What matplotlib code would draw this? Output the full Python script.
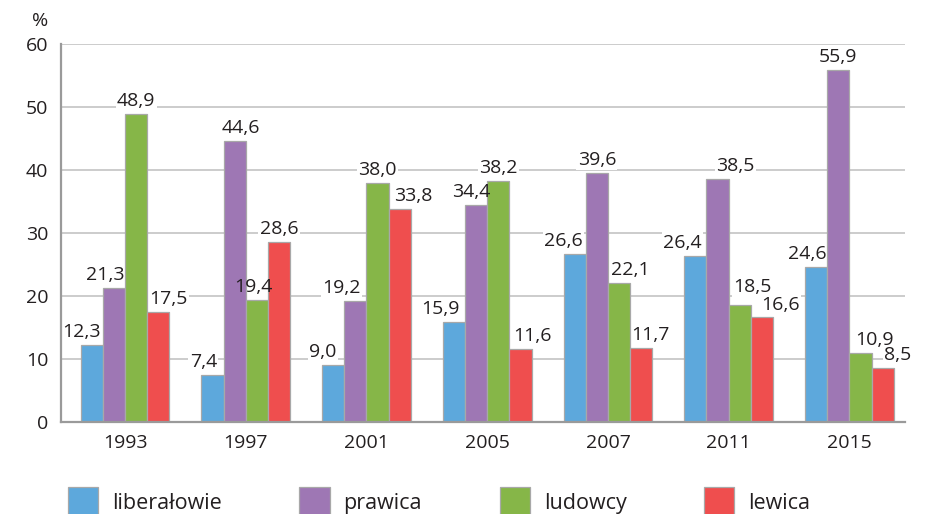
import matplotlib
matplotlib.use("Agg")
import matplotlib.pyplot as plt
import numpy as np

plt.rcParams["font.family"] = ["Open Sans", "DejaVu Sans"]

years = ["1993", "1997", "2001", "2005", "2007", "2011", "2015"]
series = ["liberałowie", "prawica", "ludowcy", "lewica"]
liberalowie = [12.3, 7.4, 9.0, 15.9, 26.6, 26.4, 24.6]
prawica = [21.3, 44.6, 19.2, 34.4, 39.6, 38.5, 55.9]
ludowcy = [48.9, 19.4, 38.0, 38.2, 22.1, 18.5, 10.9]
lewica = [17.5, 28.6, 33.8, 11.6, 11.7, 16.6, 8.5]
values = [liberalowie, prawica, ludowcy, lewica]

colors = ["#5da8dc", "#9e77b4", "#86b648", "#ef4e4e"]

# nudges of the value labels (pixels), per year / per series
nudge_x = [
    [-10, -9, 0, 10],
    [-9, 6, -3, 0],
    [-10, -14, 0, 13],
    [-14, -5, 0, 12],
    [-11, 0, 11, 9],
    [-13, 18, 13, 18],
    [-9, 0, 14, 15],
]
nudge_y = [
    [4, 4, 4, 4],
    [4, 4, 4, 4],
    [4, 4, 4, 4],
    [4, 4, 4, 4],
    [4, 4, 4, 4],
    [4, 4, 9, 3],
    [4, 4, 4, 4],
]

fig = plt.figure(figsize=(9.34, 5.14), dpi=100)
ax = fig.add_axes([61 / 934, 92 / 514, 844 / 934, 378 / 514])

x = np.arange(len(years))
width = 0.184

for s, (name, vals, col) in enumerate(zip(series, values, colors)):
    pos = x + (s - 1.5) * width
    bars = ax.bar(pos, vals, width, color=col, edgecolor="#a8a8a8",
                  linewidth=0.9, label=name, zorder=2)
    for i, (b, v) in enumerate(zip(bars, vals)):
        txt = f"{v:.1f}".replace(".", ",")
        xy = (b.get_x() + b.get_width() / 2, v)
        off = (nudge_x[i][s], nudge_y[i][s])
        # white patch that hides the gridline but stays under the bars
        ax.annotate(txt, xy, xytext=off, textcoords="offset pixels",
                    ha="center", va="bottom", fontsize=14, color="none",
                    bbox=dict(fc="white", ec="none", pad=1.0), zorder=1.5)
        ax.annotate(txt, xy, xytext=off, textcoords="offset pixels",
                    ha="center", va="bottom", fontsize=14, color="#231f20",
                    zorder=4)

ax.set_xlim(-0.53, 6.46)
ax.set_ylim(0, 60)
ax.set_yticks(range(0, 61, 10))
ax.set_xticks(x)
ax.set_xticklabels(years)
ax.tick_params(length=0, labelsize=14, colors="#231f20")
ax.tick_params(axis="y", pad=9)
ax.tick_params(axis="x", pad=9)
ax.yaxis.grid(True, color="#c4c4c4", linewidth=1.2, zorder=0)
ax.set_axisbelow(True)
for side in ["top", "right"]:
    ax.spines[side].set_visible(False)
for side in ["left", "bottom"]:
    ax.spines[side].set_color("#9a9a9a")
    ax.spines[side].set_linewidth(1.6)

fig.text(40 / 934, 1 - 21 / 514, "%", ha="center", va="center",
         fontsize=14, color="#231f20")

leg = fig.legend(loc="upper left", bbox_to_anchor=(68 / 934, 1 - 487 / 514),
                 ncol=4, frameon=False, fontsize=15.5, borderpad=0,
                 borderaxespad=0, handlelength=1.4, handleheight=1.75,
                 handletextpad=0.65, columnspacing=3.6)
for t in leg.get_texts():
    t.set_color("#231f20")

fig.savefig("out.png", dpi=100)
